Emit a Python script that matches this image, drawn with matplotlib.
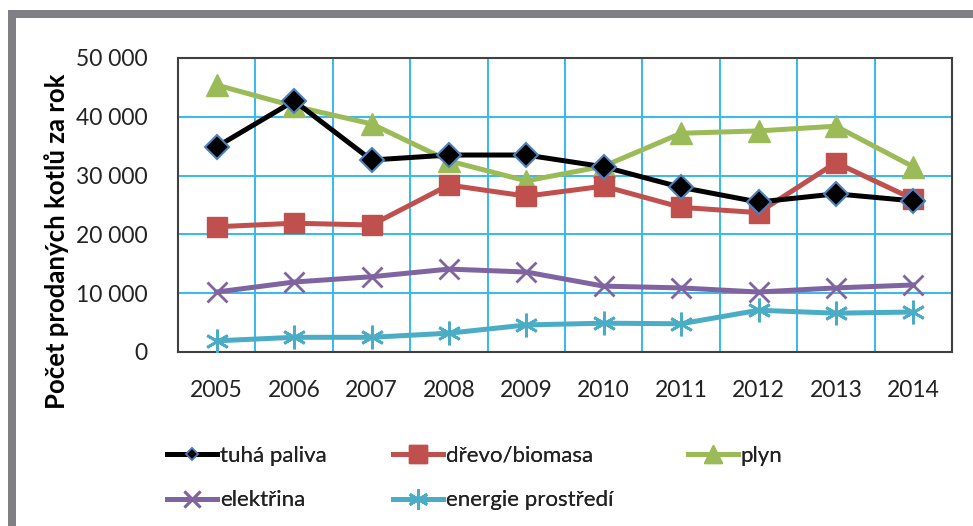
import matplotlib
matplotlib.use('Agg')
import matplotlib.pyplot as plt
import matplotlib.ticker as mticker
from matplotlib.patches import Rectangle

years = ['2005', '2006', '2007', '2008', '2009', '2010', '2011', '2012', '2013', '2014']

tuha_paliva = [34900, 42700, 32650, 33500, 33500, 31500, 28000, 25500, 26900, 25700]
drevo_biomasa = [21300, 21900, 21600, 28400, 26500, 28200, 24600, 23700, 32200, 26000]
plyn = [45400, 41800, 38800, 32500, 29100, 31600, 37200, 37600, 38400, 31500]
elektrina = [10200, 11900, 12800, 14100, 13600, 11200, 10900, 10200, 10900, 11400]
energie_prostredi = [1900, 2500, 2500, 3200, 4600, 4900, 4800, 7100, 6600, 6800]

plt.rcParams['font.family'] = ['Lato', 'DejaVu Sans']

W, H = 973, 526
fig = plt.figure(figsize=(W / 100, H / 100), dpi=100)
fig.patch.set_facecolor('white')

# grey frame around the chart (top and left edges)
frame_c = '#7f7f84'
fig.add_artist(Rectangle((8 / W, 1 - 18 / H), 1, 8 / H, transform=fig.transFigure,
                         facecolor=frame_c, edgecolor='none'))
fig.add_artist(Rectangle((8 / W, 0), 8 / W, 1 - 10 / H, transform=fig.transFigure,
                         facecolor=frame_c, edgecolor='none'))

ax = fig.add_axes([178 / W, 1 - 352 / H, (952 - 178) / W, (352 - 58) / H])

x = list(range(len(years)))
lw = 3.6
h1, = ax.plot(x, tuha_paliva, color='black', lw=lw, marker='D', ms=12,
              mfc='black', mec='#4F81BD', mew=1.5, label='tuhá paliva', zorder=5)
h2, = ax.plot(x, drevo_biomasa, color='#C0504D', lw=lw, marker='s', ms=15,
              mfc='#C0504D', mec='#C0504D', label='dřevo/biomasa', zorder=4)
h3, = ax.plot(x, plyn, color='#9BBB59', lw=lw, marker='^', ms=16,
              mfc='#9BBB59', mec='#9BBB59', label='plyn', zorder=3)
h4, = ax.plot(x, elektrina, color='#8064A2', lw=lw, marker='x', ms=14, mew=2,
              label='elektřina', zorder=3)
h5, = ax.plot(x, energie_prostredi, color='#4BACC6', lw=lw, marker=(6, 2, 0), ms=17, mew=2,
              label='energie prostředí', zorder=3)

ax.set_xlim(-0.5, len(years) - 0.5)
ax.set_ylim(0, 50000)
ax.set_xticks(x)
ax.set_xticklabels(years)
ax.yaxis.set_major_locator(mticker.MultipleLocator(10000))
ax.yaxis.set_major_formatter(mticker.FuncFormatter(lambda v, _: f'{int(v):,}'.replace(',', ' ')))

# gridlines sit between the categories
ax.set_xticks([i + 0.5 for i in x[:-1]], minor=True)
ax.grid(True, which='minor', axis='x', color='#33BBEE', lw=1.4)
ax.grid(True, which='major', axis='y', color='#33BBEE', lw=1.4)
ax.set_axisbelow(True)
ax.tick_params(which='both', length=0)
ax.tick_params(axis='y', pad=22, labelsize=16.5, colors='#222222')
ax.tick_params(axis='x', pad=20, labelsize=16.5, colors='#222222')
for s in ax.spines.values():
    s.set_color('#404040')
    s.set_linewidth(1.5)

fig.text(57 / W, 1 - 241 / H, 'Počet prodaných kotlů za rok', rotation=90,
         ha='center', va='center', fontsize=18.5, fontweight='bold', color='black')

# legend laid out row by row: one small legend per column
legend_cols = [(167, [h1, h4]), (393, [h2, h5]), (688, [h3])]
for left, handles in legend_cols:
    leg = fig.legend(handles, [h.get_label() for h in handles],
                     loc='upper left', bbox_to_anchor=(left / W, 1 - 446 / H),
                     frameon=False, fontsize=16, handlelength=2.25, handletextpad=0.12,
                     labelspacing=1.1, borderaxespad=0, borderpad=0,
                     markerscale=0.85, labelcolor='#222222')
    for lh in leg.legend_handles:
        if lh.get_marker() == 'D':
            lh.set_markersize(6.5)
            lh.set_markeredgewidth(1.2)
    fig.add_artist(leg)

fig.savefig('out.png', dpi=100)
